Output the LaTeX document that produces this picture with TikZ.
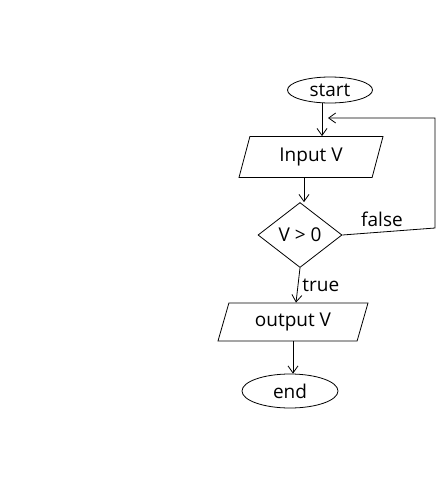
\documentclass[tikz,border=0pt]{standalone}
\usepackage{fontspec}
\setmainfont{Open Sans}
\usetikzlibrary{shapes.geometric,arrows.meta}
\begin{document}
\begin{tikzpicture}[x=1pt,y=-1pt,
  line width=0.8pt,
  every node/.style={font=\fontsize{19}{22}\selectfont},
  arr/.style={-{Straight Barb[length=7pt,width=10pt]}},
  terminal/.style={draw,ellipse,inner sep=0pt},
  io/.style={draw,trapezium,trapezium left angle=59,trapezium right angle=121,
    trapezium stretches body,inner sep=0pt},
  decision/.style={draw,diamond,inner sep=0pt},
  edgelabel/.style={inner sep=1pt}]
  \useasboundingbox (0,0) rectangle (439,480);

  % flowchart nodes
  \node[terminal,minimum width=85pt,minimum height=26pt] (start) at (330,90) {start};
  \node[io,minimum width=144pt,minimum height=41pt] (input) at (311,157) {Input V};
  \node[decision,minimum width=84pt,minimum height=65pt] (test) at (300,235) {V > 0};
  \node[io,minimum width=150pt,minimum height=38pt] (output) at (293,322) {output V};
  \node[terminal,minimum width=96pt,minimum height=34pt] (end) at (290,391) {end};

  % loop-back route
  \coordinate (c1) at (435,228);
  \coordinate (c2) at (435,118);
  \coordinate (back) at (328,118);

  % connectors
  \draw[arr] (start.south -| 322,0) -- (input.north -| 322,0);
  \draw[arr] (input.south -| 304,0) -- (test.north -| 304,0);
  \draw[arr] (test.south) -- (output.north -| 296,0)
    node[edgelabel,midway,right=3pt] {true};
  \draw[arr] (test.east) -- (c1) -- (c2) -- (back);
  \node[edgelabel] (falselbl) at (382,219) {false};
  \draw[arr] (output.south -| 293,0) -- (end.north -| 293,0);
\end{tikzpicture}
\end{document}
